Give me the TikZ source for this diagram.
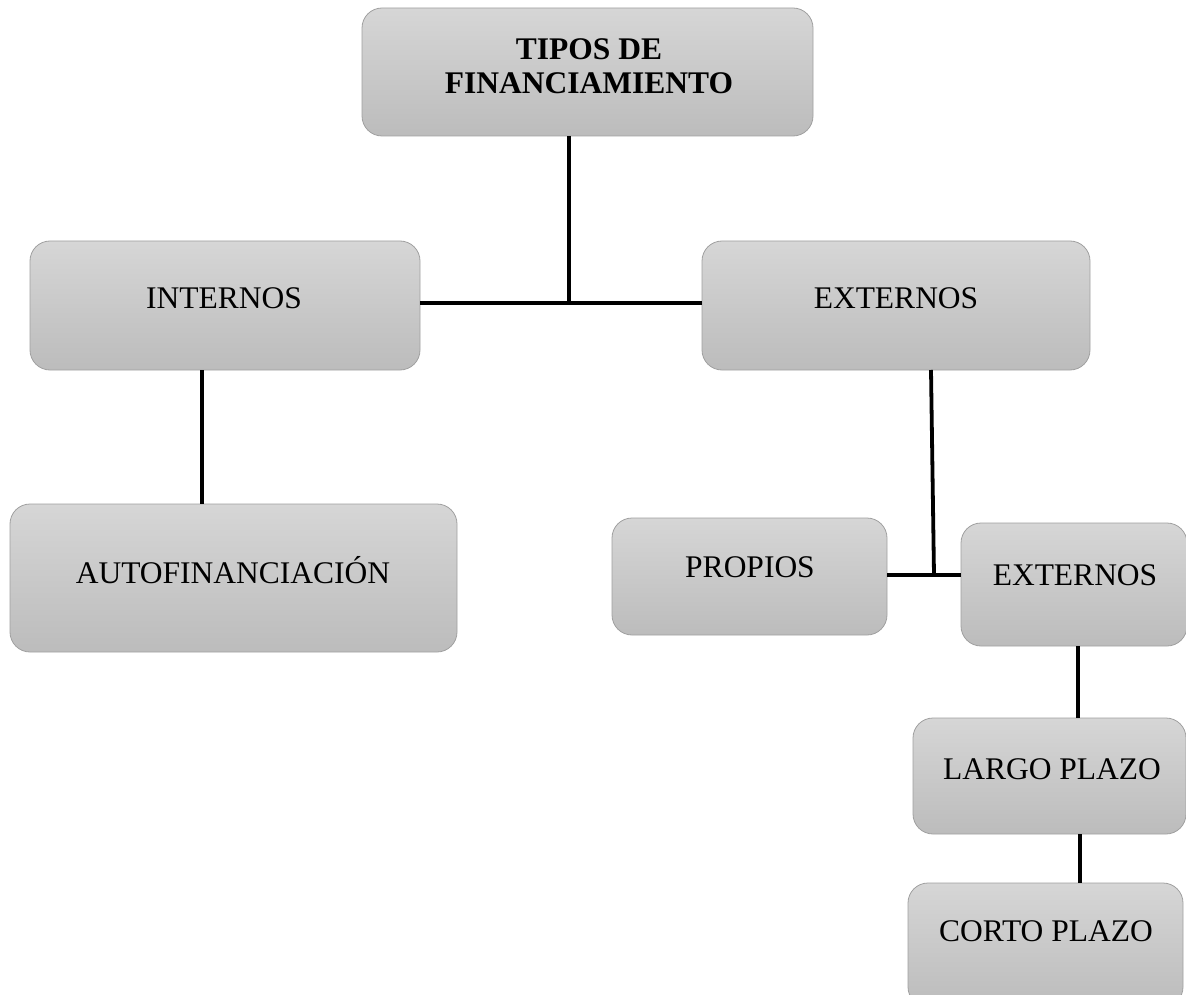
\documentclass[tikz,border=0pt]{standalone}
\usepackage{fontspec}
\setmainfont{Liberation Serif}
\begin{document}
\begin{tikzpicture}[x=1pt,y=-1pt,
  box/.style={draw={rgb,255:red,160;green,160;blue,160}, line width=0.8pt, rounded corners=20pt,
    top color={rgb,255:red,214;green,214;blue,214}, bottom color={rgb,255:red,188;green,188;blue,188},
    minimum width=#1, inner sep=0pt, outer sep=0pt},
  lbl/.style={font=\fontsize{31.5}{34}\selectfont, align=center, inner sep=0pt},
  conn/.style={line width=3.8pt, black}]
\useasboundingbox (0,0) rectangle (1186,995);
% boxes
\node[box=451pt, minimum height=128pt] (top) at (587.5,72) {};
\node[box=390pt, minimum height=129pt] (int) at (225,305.5) {};
\node[box=388pt, minimum height=129pt] (ext) at (896,305.5) {};
\node[box=447pt, minimum height=148pt] (auto) at (233.5,578) {};
\node[box=275pt, minimum height=117pt] (prop) at (749.5,576.5) {};
\node[box=226pt, minimum height=123pt] (ext2) at (1074,584.5) {};
\node[box=273pt, minimum height=116pt] (largo) at (1049.5,776) {};
\node[box=275pt, minimum height=124pt] (corto) at (1045.5,945) {};
% texts
\node[lbl, font=\fontsize{31.5}{34}\selectfont\bfseries] (ttop) at (589,66) {TIPOS DE\\FINANCIAMIENTO};
\node[lbl] (tint) at (224,298) {INTERNOS};
\node[lbl] (text) at (896,298) {EXTERNOS};
\node[lbl] (tauto) at (233,570) {AUTOFINANCIACIÓN};
\node[lbl] (tprop) at (750,567) {PROPIOS};
\node[lbl] (text2) at (1075,575) {EXTERNOS};
\node[lbl] (tlargo) at (1052,769) {LARGO PLAZO};
\node[lbl] (tcorto) at (1046,931) {CORTO PLAZO};
% connectors
\coordinate (j1) at (569,303);
\draw[conn] (top.south -| j1) -- (j1);
\draw[conn] (int.east |- j1) -- (ext.west |- j1);
\draw[conn] ([xshift=-23pt]int.south) -- ([xshift=-31.5pt]auto.north);
\coordinate (j2) at (934,575);
\draw[conn] ([xshift=35pt]ext.south) -- (j2);
\draw[conn] (prop.east |- j2) -- (ext2.west |- j2);
\draw[conn] ([xshift=4pt]ext2.south) -- ([xshift=28.5pt]largo.north);
\draw[conn] ([xshift=30.5pt]largo.south) -- ([xshift=34.5pt]corto.north);
\end{tikzpicture}
\end{document}
